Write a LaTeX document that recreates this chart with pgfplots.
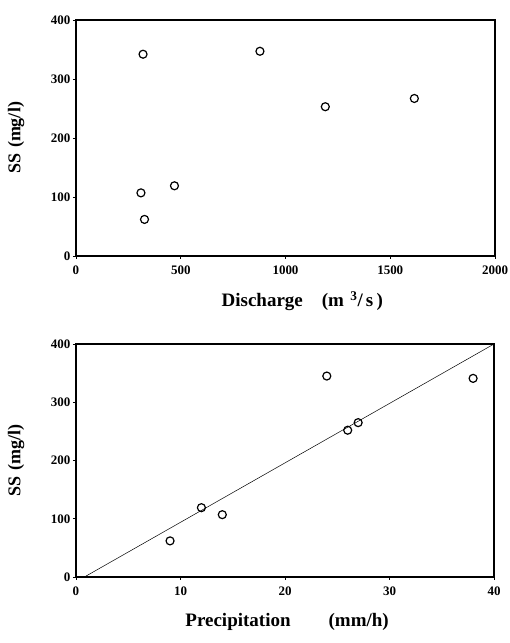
\documentclass[border=0pt]{standalone}
\usepackage{fontspec}
\setmainfont{Liberation Serif}
\usepackage{pgfplots}
\pgfplotsset{compat=1.18}
\begin{document}
\begin{tikzpicture}
\path[use as bounding box] (0pt,0pt) rectangle (510pt,643pt);
\pgfplotsset{
  every axis/.append style={
    scale only axis, axis line style={line width=1.1pt},
    tick align=outside, major tick length=3pt,
    xtick pos=left, ytick pos=left,
    tick style={line width=0.8pt,black},
    ticklabel style={font=\fontsize{13}{13}\selectfont\bfseries},
    /pgf/number format/assume math mode=true,
    /pgf/number format/1000 sep={},
    label style={font=\fontsize{19}{19}\selectfont\bfseries},
    ymin=0, ymax=400, ytick={0,100,200,300,400},
    yticklabel style={xshift=1pt},
    xticklabel style={yshift=-3pt},
  }
}
\begin{axis}[at={(76pt,387pt)}, anchor=south west, width=419pt, height=236pt,
  xmin=0, xmax=2000, xtick={0,500,1000,1500,2000},
  xlabel={Discharge\quad(m\,\,\textsuperscript{3}/\,s\,)},
  xlabel style={at={(axis description cs:0.54,0)}, anchor=north, yshift=-32pt},
  ylabel={SS\,\,(mg/l)},
  ylabel style={font=\fontsize{18}{18}\selectfont\bfseries, at={(axis description cs:0,0.5)}, yshift=48pt},
]
\addplot[only marks, mark=o, mark size=4pt, mark options={line width=1.2pt}] coordinates {
(310,107) (320,342) (327,62) (470,119) (878,347) (1190,253) (1615,267)
};
\end{axis}
\begin{axis}[at={(76pt,66pt)}, anchor=south west, width=418pt, height=233pt,
  xmin=0, xmax=40, xtick={0,10,20,30,40},
  xlabel={Precipitation\qquad(mm/h)},
  xlabel style={at={(axis description cs:0.505,0)}, anchor=north, yshift=-33pt},
  ylabel={SS\,\,(mg/l)},
  ylabel style={font=\fontsize{18}{18}\selectfont\bfseries, at={(axis description cs:0,0.5)}, yshift=48pt},
]
\addplot[only marks, mark=o, mark size=4pt, mark options={line width=1.2pt}] coordinates {
(9,62) (12,119) (14,107) (24,345) (26,252) (27,265) (38,341)
};
\addplot[black, line width=0.5pt] coordinates {(0.8,0) (40,400)};
\end{axis}
\end{tikzpicture}
\end{document}
